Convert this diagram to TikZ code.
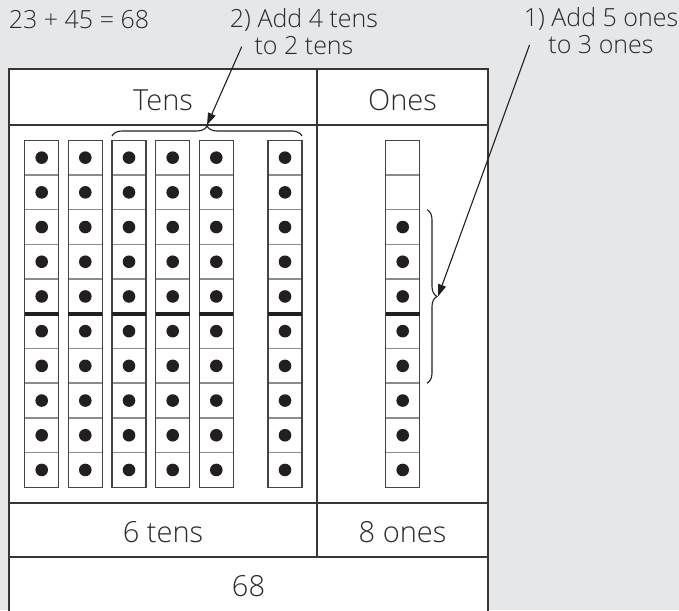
\documentclass[tikz,border=0pt]{standalone}
\usepackage{fontspec}
\IfFontExistsTF{Open Sans Light}{\setmainfont{Open Sans Light}}{\setmainfont{Open Sans}}
\usetikzlibrary{decorations.pathreplacing,arrows.meta}
\definecolor{bg}{HTML}{E6E7E8}
\definecolor{ink}{HTML}{231F20}
\definecolor{txt}{HTML}{2B2B2B}
\definecolor{sepgray}{HTML}{8C8C8C}
\definecolor{rodedge}{HTML}{444444}
\begin{document}
\begin{tikzpicture}[x=1pt,y=-1pt,
  tablerule/.style={draw=ink!90, line width=1.5pt},
  lbl/.style={font=\fontsize{25}{27.3}\selectfont, text=txt, inner sep=0pt, align=center},
  celltext/.style={font=\fontsize{29}{31}\selectfont, text=txt, inner sep=0pt, anchor=base},
  rodcell/.style={draw=rodedge, line width=1.4pt},
  rodsep/.style={draw=sepgray, line width=1.5pt},
  fivemark/.style={draw=ink, line width=4pt},
  bead/.style={fill=ink},
  bracestyle/.style={draw=ink, line width=1.1pt, decorate, decoration={brace, amplitude=10pt}},
  pointer/.style={draw=ink, line width=1.1pt, -{Triangle[length=12pt,width=8pt]}}]
\fill[bg] (0,0) rectangle (679,610);
\useasboundingbox (0,0) rectangle (679,610);
\clip (0,0) rectangle (679,610);
% table
\fill[white] (9,69) rectangle (488,614);
\draw[tablerule] (9,69) rectangle (488,614);
\draw[tablerule] (9,125) -- (488,125);
\draw[tablerule] (9,503) -- (488,503);
\draw[tablerule] (9,557) -- (488,557);
\draw[tablerule] (317,69) -- (317,557);
% headers and totals
\node[celltext] (tens) at (163,110) {Tens};
\node[celltext] (ones) at (402.5,110) {Ones};
\node[celltext] (sixtens) at (163,542.5) {6 tens};
\node[celltext] (eightones) at (402.5,542.5) {8 ones};
\node[celltext] (total) at (248.5,596) {68};
% rods of ten
\foreach \x in {24.7,68.3,112,155.7,199.3,268}{
  \fill[white] (\x,140.3) rectangle ++(34,347);
  \foreach \i in {1,...,9} \draw[rodsep] (\x,140.3+\i*34.7) -- ++(34,0);
  \draw[rodcell] (\x,140.3) rectangle ++(34,347);
  \draw[fivemark] (\x,313.8) -- ++(34,0);
  \foreach \i in {0,...,9} \fill[bead] (\x+17,157.65+\i*34.7) circle (6.3);
}
% ones rod
\fill[white] (385.7,140.3) rectangle ++(34,347);
\foreach \i in {1,...,9} \draw[rodsep] (385.7,140.3+\i*34.7) -- ++(34,0);
\draw[rodcell] (385.7,140.3) rectangle ++(34,347);
\draw[fivemark] (385.7,313.8) -- ++(34,0);
\foreach \i in {2,...,9} \fill[bead] (402.7,157.65+\i*34.7) circle (6.3);
% braces
\draw[bracestyle] (112,136) -- (302,136);
\coordinate (tenstip) at (207,125);
\draw[bracestyle] (427,209.7) -- (427,383.2);
\coordinate (onestip) at (438,296.5);
% labels
\node[lbl, anchor=base west] (eq) at (8.7,29) {23 + 45 = 68};
\node[lbl, anchor=base] (step2) at (304,54.3) {2) Add 4 tens\\to 2 tens};
\node[lbl, anchor=base] (step1) at (601,53.5) {1) Add 5 ones\\to 3 ones};
\coordinate (step2from) at (241.7,46.7);
\coordinate (step1from) at (529.5,45);
\draw[pointer] (step2from) -- (tenstip);
\draw[pointer] (step1from) -- (onestip);
\end{tikzpicture}
\end{document}
